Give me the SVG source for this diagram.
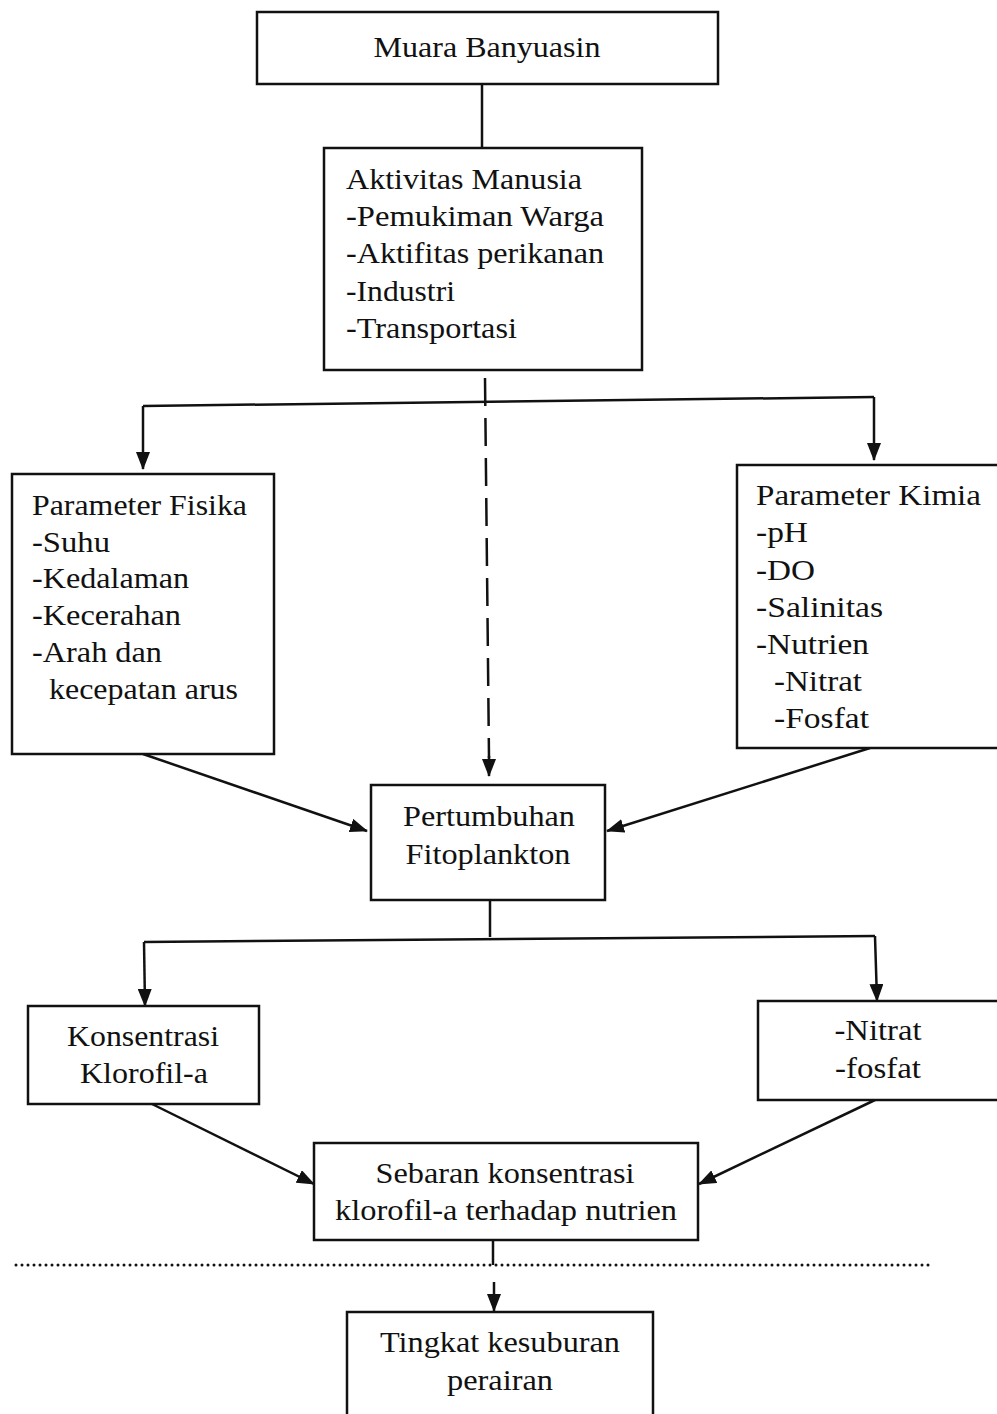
<svg xmlns="http://www.w3.org/2000/svg" width="997" height="1414" viewBox="0 0 997 1414">
<defs>
<style>
.box{fill:#fff;stroke:#111;stroke-width:2.5}
.t{font-size:30px;fill:#111}
.c{text-anchor:middle}
.ln{fill:none;stroke:#111;stroke-width:2.5}
.dash{fill:none;stroke:#111;stroke-width:2.5;stroke-dasharray:28 12}
.dot{fill:none;stroke:#111;stroke-width:3;stroke-dasharray:0 6;stroke-linecap:round}
</style>
<marker id="ah" markerWidth="18" markerHeight="14" viewBox="0 0 18 14" refX="17" refY="7" orient="auto" markerUnits="userSpaceOnUse">
<path d="M0,0 L18,7 L0,14 z" fill="#111"/>
</marker>
</defs>
<rect width="997" height="1414" fill="#fff"/>
<g id="connectors">
<path class="ln" d="M482,84 L482,148"/>
<path class="ln" d="M143,406 L874,397"/>
<path class="ln" d="M143,406 L143,469" marker-end="url(#ah)"/>
<path class="ln" d="M874,397 L874,460" marker-end="url(#ah)"/>
<path class="dash" d="M485,378 L489,758"/>
<path class="ln" d="M489,756 L489,776" marker-end="url(#ah)"/>
<path class="ln" d="M143,754 L367,831" marker-end="url(#ah)"/>
<path class="ln" d="M870,748 L607,831" marker-end="url(#ah)"/>
<path class="ln" d="M490,900 L490,937"/>
<path class="ln" d="M144,942 L875,936"/>
<path class="ln" d="M144,942 L145,1006" marker-end="url(#ah)"/>
<path class="ln" d="M875,936 L877,1001" marker-end="url(#ah)"/>
<path class="ln" d="M152,1104 L314,1184" marker-end="url(#ah)"/>
<path class="ln" d="M875,1100 L699,1184" marker-end="url(#ah)"/>
<path class="ln" d="M493,1240 L493,1265"/>
<path class="dot" d="M16,1265 L932,1265"/>
<path class="ln" d="M494,1282 L494,1311" marker-end="url(#ah)"/>
</g>
<g font-family="Liberation Serif, serif">
<g id="n1">
<rect class="box" x="257" y="12" width="461" height="72"/>
<text class="t c" x="487" y="57" textLength="227" lengthAdjust="spacingAndGlyphs">Muara Banyuasin</text>
</g>
<g id="n2">
<rect class="box" x="324" y="148" width="318" height="222"/>
<text class="t" x="346" y="189" textLength="236" lengthAdjust="spacingAndGlyphs">Aktivitas Manusia</text>
<text class="t" x="346" y="226" textLength="258" lengthAdjust="spacingAndGlyphs">-Pemukiman Warga</text>
<text class="t" x="346" y="263" textLength="258" lengthAdjust="spacingAndGlyphs">-Aktifitas perikanan</text>
<text class="t" x="346" y="301" textLength="109" lengthAdjust="spacingAndGlyphs">-Industri</text>
<text class="t" x="346" y="338" textLength="171" lengthAdjust="spacingAndGlyphs">-Transportasi</text>
</g>
<g id="n3">
<rect class="box" x="12" y="474" width="262" height="280"/>
<text class="t" x="32" y="515" textLength="215" lengthAdjust="spacingAndGlyphs">Parameter Fisika</text>
<text class="t" x="32" y="552" textLength="78" lengthAdjust="spacingAndGlyphs">-Suhu</text>
<text class="t" x="32" y="588" textLength="157" lengthAdjust="spacingAndGlyphs">-Kedalaman</text>
<text class="t" x="32" y="625" textLength="149" lengthAdjust="spacingAndGlyphs">-Kecerahan</text>
<text class="t" x="32" y="662" textLength="130" lengthAdjust="spacingAndGlyphs">-Arah dan</text>
<text class="t" x="49" y="699" textLength="189" lengthAdjust="spacingAndGlyphs">kecepatan arus</text>
</g>
<g id="n4">
<rect class="box" x="737" y="465" width="270" height="283"/>
<text class="t" x="756" y="505" textLength="225" lengthAdjust="spacingAndGlyphs">Parameter Kimia</text>
<text class="t" x="756" y="542" textLength="52" lengthAdjust="spacingAndGlyphs">-pH</text>
<text class="t" x="756" y="580" textLength="59" lengthAdjust="spacingAndGlyphs">-DO</text>
<text class="t" x="756" y="617" textLength="127" lengthAdjust="spacingAndGlyphs">-Salinitas</text>
<text class="t" x="756" y="654" textLength="113" lengthAdjust="spacingAndGlyphs">-Nutrien</text>
<text class="t" x="774" y="691" textLength="88" lengthAdjust="spacingAndGlyphs">-Nitrat</text>
<text class="t" x="774" y="728" textLength="95" lengthAdjust="spacingAndGlyphs">-Fosfat</text>
</g>
<g id="n5">
<rect class="box" x="371" y="785" width="234" height="115"/>
<text class="t c" x="489" y="826" textLength="172" lengthAdjust="spacingAndGlyphs">Pertumbuhan</text>
<text class="t c" x="488" y="864" textLength="165" lengthAdjust="spacingAndGlyphs">Fitoplankton</text>
</g>
<g id="n6">
<rect class="box" x="28" y="1006" width="231" height="98"/>
<text class="t c" x="143" y="1046" textLength="152" lengthAdjust="spacingAndGlyphs">Konsentrasi</text>
<text class="t c" x="144" y="1083" textLength="128" lengthAdjust="spacingAndGlyphs">Klorofil-a</text>
</g>
<g id="n7">
<rect class="box" x="758" y="1001" width="249" height="99"/>
<text class="t c" x="878" y="1040" textLength="87" lengthAdjust="spacingAndGlyphs">-Nitrat</text>
<text class="t c" x="878" y="1078" textLength="86" lengthAdjust="spacingAndGlyphs">-fosfat</text>
</g>
<g id="n8">
<rect class="box" x="314" y="1143" width="384" height="97"/>
<text class="t c" x="505" y="1183" textLength="259" lengthAdjust="spacingAndGlyphs">Sebaran konsentrasi</text>
<text class="t c" x="506" y="1220" textLength="342" lengthAdjust="spacingAndGlyphs">klorofil-a terhadap nutrien</text>
</g>
<g id="n9">
<rect class="box" x="347" y="1312" width="306" height="110"/>
<text class="t c" x="500" y="1352" textLength="240" lengthAdjust="spacingAndGlyphs">Tingkat kesuburan</text>
<text class="t c" x="500" y="1390" textLength="106" lengthAdjust="spacingAndGlyphs">perairan</text>
</g>
</g>
</svg>
